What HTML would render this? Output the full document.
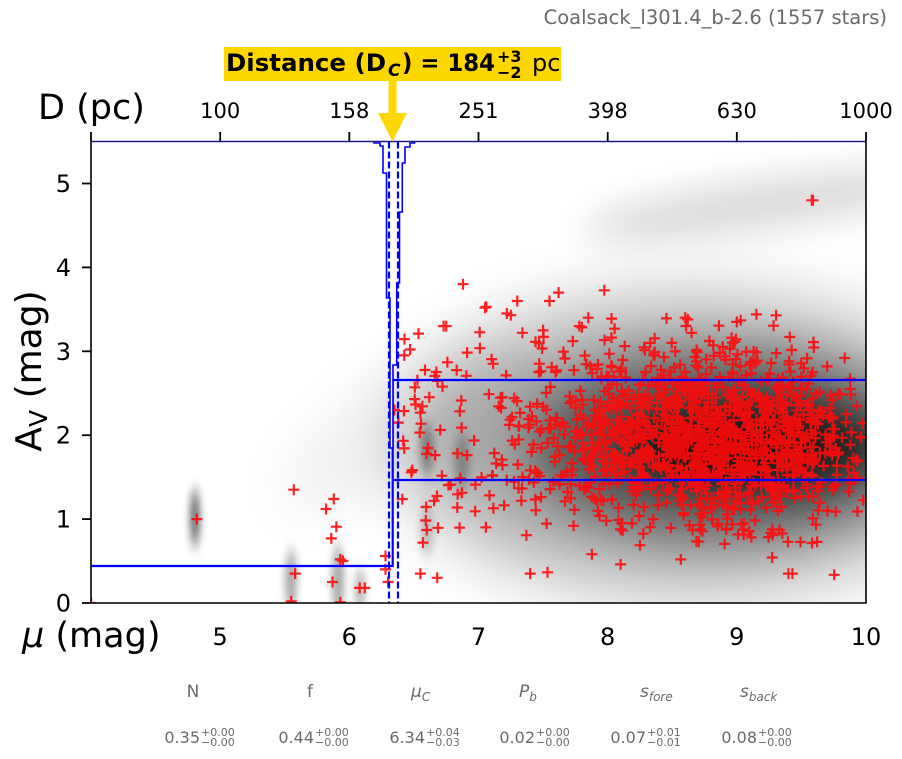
<!DOCTYPE html>
<html><head><meta charset="utf-8"><style>
html,body{margin:0;padding:0;background:#fff;}
svg{display:block;}
text{font-family:"DejaVu Sans","Liberation Sans",sans-serif;}
</style></head><body>
<svg id="s" width="902" height="759" viewBox="0 0 902 759" xmlns="http://www.w3.org/2000/svg">
<defs>
<clipPath id="pc"><rect x="91" y="141.5" width="775" height="461.5"/></clipPath>
<filter id="b40" x="-100%" y="-100%" width="300%" height="300%"><feGaussianBlur stdDeviation="40"/></filter>
<filter id="b35" x="-100%" y="-100%" width="300%" height="300%"><feGaussianBlur stdDeviation="35"/></filter>
<filter id="b30" x="-100%" y="-100%" width="300%" height="300%"><feGaussianBlur stdDeviation="30"/></filter>
<filter id="b25" x="-100%" y="-100%" width="300%" height="300%"><feGaussianBlur stdDeviation="25"/></filter>
<filter id="b18" x="-100%" y="-100%" width="300%" height="300%"><feGaussianBlur stdDeviation="18"/></filter>
<filter id="b10" x="-100%" y="-100%" width="300%" height="300%"><feGaussianBlur stdDeviation="10"/></filter>
<filter id="b4" x="-200%" y="-100%" width="500%" height="300%"><feGaussianBlur stdDeviation="4 8"/></filter>
</defs>
<rect width="902" height="759" fill="#fff"/>

<!-- density background -->
<g clip-path="url(#pc)">
  <rect x="91" y="141.5" width="775" height="461.5" fill="#fff"/>
  <ellipse cx="390" cy="430" rx="130" ry="45" transform="rotate(-35 390 430)" fill="#000" opacity="0.06" filter="url(#b30)"/>
  <ellipse cx="690" cy="445" rx="285" ry="145" fill="#000" opacity="0.33" filter="url(#b35)"/>
  <ellipse cx="720" cy="445" rx="195" ry="90" fill="#000" opacity="0.48" filter="url(#b25)"/>
  <ellipse cx="745" cy="445" rx="130" ry="45" fill="#000" opacity="0.65" filter="url(#b18)"/>
  <ellipse cx="720" cy="450" rx="60" ry="22" fill="#000" opacity="0.5" filter="url(#b10)"/>
  <ellipse cx="760" cy="205" rx="180" ry="24" transform="rotate(-8 760 205)" fill="#000" opacity="0.15" filter="url(#b18)"/>
  <ellipse cx="195" cy="518" rx="5" ry="28" fill="#000" opacity="0.6" filter="url(#b4)"/>
  <ellipse cx="291" cy="580" rx="6" ry="30" fill="#000" opacity="0.35" filter="url(#b4)"/>
  <ellipse cx="338" cy="580" rx="6" ry="35" fill="#000" opacity="0.35" filter="url(#b4)"/>
  <ellipse cx="360" cy="590" rx="5" ry="22" fill="#000" opacity="0.3" filter="url(#b4)"/>
  <ellipse cx="427" cy="449" rx="7" ry="26" fill="#000" opacity="0.35" filter="url(#b4)"/>
  <ellipse cx="427" cy="530" rx="7" ry="26" fill="#000" opacity="0.2" filter="url(#b4)"/>
  <ellipse cx="462" cy="462" rx="8" ry="28" fill="#000" opacity="0.25" filter="url(#b4)"/>
  <!-- scatter -->
  <path id="pts" d="" fill="none" stroke="#ff0a0a" stroke-width="2.2" stroke-opacity="0.9"/>
</g>

<!-- blue model lines -->
<g clip-path="url(#pc)" fill="none" stroke="#0000ff">
  <polyline points="91,566 392.7,566 392.7,380 866,380" stroke-width="2.2"/>
  <line x1="393.5" y1="480" x2="866" y2="480" stroke-width="2.2"/>
  <polygon points="374,141 374,143 380,143 380,146 383,146 383,173 386.5,173 386.5,298 390,298 390,448 393,448 393,365 396.7,365 396.7,283 399.5,283 399.5,212 402.3,212 402.3,163 405,163 405,147 410,147 410,143 414.5,143 414.5,141" fill="#fff" stroke-width="1.6"/>
  <line x1="389" y1="141.5" x2="389" y2="603" stroke-width="2.2" stroke-dasharray="7,3"/>
  <line x1="398" y1="141.5" x2="398" y2="603" stroke-width="2.2" stroke-dasharray="7,3"/>
</g>

<!-- spines -->
<line x1="91" y1="141.5" x2="866" y2="141.5" stroke="#1c1c80" stroke-width="1.5"/>
<line x1="91" y1="141" x2="91" y2="603.5" stroke="#000" stroke-width="1.6"/>
<line x1="866" y1="141" x2="866" y2="603.5" stroke="#000" stroke-width="1.6"/>
<line x1="90.5" y1="603" x2="866.5" y2="603" stroke="#000" stroke-width="1.6"/>

<!-- ticks -->
<g stroke="#000" stroke-width="1.8">
  <line x1="91" y1="132" x2="91" y2="141"/>
  <line x1="220.2" y1="132" x2="220.2" y2="141"/>
  <line x1="349.3" y1="132" x2="349.3" y2="141"/>
  <line x1="478.5" y1="132" x2="478.5" y2="141"/>
  <line x1="607.7" y1="132" x2="607.7" y2="141"/>
  <line x1="736.8" y1="132" x2="736.8" y2="141"/>
  <line x1="866" y1="132" x2="866" y2="141"/>
  <line x1="82" y1="603" x2="91" y2="603"/>
  <line x1="82" y1="519.1" x2="91" y2="519.1"/>
  <line x1="82" y1="435.2" x2="91" y2="435.2"/>
  <line x1="82" y1="351.3" x2="91" y2="351.3"/>
  <line x1="82" y1="267.4" x2="91" y2="267.4"/>
  <line x1="82" y1="183.5" x2="91" y2="183.5"/>
</g>

<!-- top tick labels -->
<g font-size="21" text-anchor="middle" fill="#000">
  <text x="220.2" y="118">100</text>
  <text x="349.3" y="118">158</text>
  <text x="478.5" y="118">251</text>
  <text x="607.7" y="118">398</text>
  <text x="736.8" y="118">630</text>
  <text x="866" y="118">1000</text>
</g>
<text x="38" y="119" font-size="35" fill="#000">D (pc)</text>

<!-- left tick labels -->
<g font-size="24" text-anchor="end" fill="#000">
  <text x="71" y="611.5">0</text>
  <text x="71" y="527.6">1</text>
  <text x="71" y="443.7">2</text>
  <text x="71" y="359.8">3</text>
  <text x="71" y="275.9">4</text>
  <text x="71" y="192">5</text>
</g>
<text transform="translate(41,371) rotate(-90)" font-size="36" text-anchor="middle" fill="#000">A<tspan font-size="25" dy="6">V</tspan><tspan dy="-6"> (mag)</tspan></text>

<!-- bottom tick labels -->
<g font-size="24" text-anchor="middle" fill="#000">
  <text x="220.2" y="645">5</text>
  <text x="349.3" y="645">6</text>
  <text x="478.5" y="645">7</text>
  <text x="607.7" y="645">8</text>
  <text x="736.8" y="645">9</text>
  <text x="866" y="645">10</text>
</g>
<text x="22" y="647" font-size="35" fill="#000"><tspan font-style="italic">μ</tspan> (mag)</text>

<!-- title -->
<text x="887" y="24" font-size="19.5" text-anchor="end" fill="#6a6a6a">Coalsack_l301.4_b-2.6 (1557 stars)</text>

<!-- annotation -->
<rect x="224" y="47" width="337" height="34" fill="#ffd700"/>
<text x="226" y="71" font-size="24" font-weight="bold" fill="#000" textLength="160" lengthAdjust="spacingAndGlyphs">Distance (D</text>
<text x="388" y="76" font-size="17" font-weight="bold" font-style="italic" fill="#000">C</text>
<text x="402" y="71" font-size="24" font-weight="bold" fill="#000" textLength="93" lengthAdjust="spacingAndGlyphs">) = 184</text>
<text x="497" y="62" font-size="16" font-weight="bold" fill="#000">+3</text>
<text x="497" y="78" font-size="16" font-weight="bold" fill="#000">−2</text>
<text x="532" y="71" font-size="24" fill="#000">pc</text>
<rect x="388.5" y="81" width="8" height="33" fill="#ffd700"/>
<polygon points="378,113 407,113 392.5,141.5" fill="#ffd700"/>

<!-- params row -->
<g fill="#6a6a6a">
  <text x="193" y="697" font-size="17" text-anchor="middle">N</text>
  <text x="310" y="697" font-size="17" text-anchor="middle">f</text>
  <text x="411" y="697" font-size="17" font-style="italic">μ<tspan font-size="12" dy="4">C</tspan></text>
  <text x="519" y="697" font-size="17" font-style="italic">P<tspan font-size="12" dy="4">b</tspan></text>
  <text x="640" y="697" font-size="17" font-style="italic">s<tspan font-size="12" dy="4">fore</tspan></text>
  <text x="740" y="697" font-size="17" font-style="italic">s<tspan font-size="12" dy="4">back</tspan></text>

  <g font-size="16" text-anchor="end">
    <text x="200" y="743">0.35</text>
    <text x="314" y="743">0.44</text>
    <text x="425" y="743">6.34</text>
    <text x="535" y="743">0.02</text>
    <text x="646" y="743">0.07</text>
    <text x="757" y="743">0.08</text>
  </g>
  <g font-size="11">
    <text x="201" y="736">+0.00</text><text x="201" y="746">−0.00</text>
    <text x="315" y="736">+0.00</text><text x="315" y="746">−0.00</text>
    <text x="426" y="736">+0.04</text><text x="426" y="746">−0.03</text>
    <text x="536" y="736">+0.00</text><text x="536" y="746">−0.00</text>
    <text x="647" y="736">+0.01</text><text x="647" y="746">−0.01</text>
    <text x="758" y="736">+0.00</text><text x="758" y="746">−0.00</text>
  </g>
</g>
</svg>
<script>
(function(){
  function mul(a){return function(){a|=0;a=a+0x6D2B79F5|0;var t=Math.imul(a^a>>>15,1|a);t=t+Math.imul(t^t>>>7,61|t)^t;return((t^t>>>14)>>>0)/4294967296;};}
  var R=mul(20240611);
  function g(){var u=1-R(),v=R();return Math.sqrt(-2*Math.log(u))*Math.cos(2*Math.PI*v);}
  var pts=[],i,m,a;
  for(i=0;i<1300;){m=8.8+0.6*g();if(m>9.99||m<7.1)continue;a=1.95+0.53*g();if(a<0.3||a>3.45)continue;pts.push([m,a]);i++;}
  for(i=0;i<170;){m=6.4+1.8*R();a=1.95+0.6*g();if(a<0.25||a>3.9)continue;pts.push([m,a]);i++;}
  var fixed=[[4.82,1.0],[5.57,1.35],[5.55,0.02],[5.58,0.35],[5.82,1.12],[5.88,1.24],[5.86,0.77],[5.9,0.91],[5.93,0.52],[5.95,0.5],[5.87,0.25],[5.93,0.01],[6.08,0.18],[6.12,0.18],[6.28,0.56],[6.28,0.4],[6.3,0.25],[4.0,0.0],[9.58,4.8],[9.59,4.8],
    [6.88,3.8],[7.05,3.52],[7.06,3.53],[7.3,3.6],[7.22,3.45],[7.25,3.43],[7.55,3.6],[7.62,3.7],[6.73,3.3],[6.75,3.3],[7.78,3.3],[7.85,3.4],[7.34,3.22],[7.5,3.25],[7.73,3.12],[8.33,3.1],[8.6,3.4],[8.62,3.38],[8.65,3.22],[9.0,3.35],[9.03,3.37],[9.41,3.17],[8.03,3.39],[6.55,0.35],[6.68,0.3],[6.6,0.87],[6.57,0.72],[7.4,0.35],[9.4,0.35],[9.43,0.35],[8.1,0.46],[6.35,2.3],[6.38,2.15]];
  pts=pts.concat(fixed);
  var d=[];
  for(i=0;i<pts.length;i++){
    var x=91+(pts[i][0]-4)*129.1667, y=603-pts[i][1]*83.9;
    d.push('M'+(x-5.5).toFixed(1)+' '+y.toFixed(1)+'h11M'+x.toFixed(1)+' '+(y-5.5).toFixed(1)+'v11');
  }
  document.getElementById('pts').setAttribute('d',d.join(''));
})();
</script>
</body></html>
